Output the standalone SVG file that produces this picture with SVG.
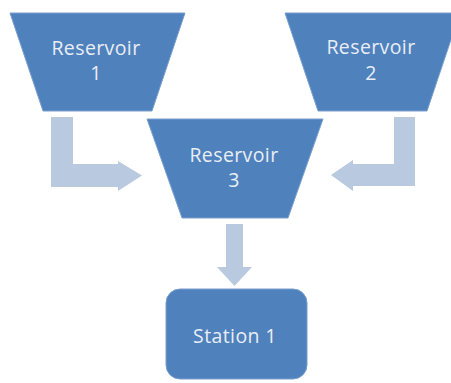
<svg xmlns="http://www.w3.org/2000/svg" width="451" height="383" viewBox="0 0 451 383">
  <style>
    .node { fill: #4f81bd; stroke: #7a9fcf; stroke-width: 1; }
    .flow { fill: #b9c9df; stroke: none; }
    .label { fill: #e9eef5; font-family: "Open Sans", "Liberation Sans", sans-serif; font-size: 19.5px; letter-spacing: 0.4px; text-anchor: middle; }
  </style>
  <rect width="451" height="383" fill="#ffffff"/>

  <!-- flow arrows -->
  <g id="connectors">
    <!-- Reservoir 1 to Reservoir 3 (bent arrow) -->
    <path class="flow" d="M51,117 H73 V164 H118 V161 L142,175.5 L118,191 V187 H51 Z"/>
    <!-- Reservoir 2 to Reservoir 3 (bent arrow) -->
    <path class="flow" d="M415,117 H394 V164 H353 V160 L331,175 L353,191 V186 H415 Z"/>
    <!-- Reservoir 3 to Station 1 -->
    <path class="flow" d="M226,224 H243 V267 H252 L234.5,286 L217,267 H226 Z"/>
  </g>

  <g id="reservoir-1">
    <polygon class="node" points="10,13 185,13 152,111 43,111"/>
    <text class="label" x="96" y="55">Reservoir</text>
    <text class="label" x="96" y="80">1</text>
  </g>

  <g id="reservoir-2">
    <polygon class="node" points="285,13 460,13 427,111 318,111"/>
    <text class="label" x="371" y="54">Reservoir</text>
    <text class="label" x="371" y="80">2</text>
  </g>

  <g id="reservoir-3">
    <polygon class="node" points="147,119 323,119 288,218 182,218"/>
    <text class="label" x="234" y="162">Reservoir</text>
    <text class="label" x="234" y="187">3</text>
  </g>

  <g id="station-1">
    <rect class="node" x="166" y="289" width="141" height="90" rx="14" ry="14"/>
    <text class="label" x="235" y="343">Station 1</text>
  </g>
</svg>
